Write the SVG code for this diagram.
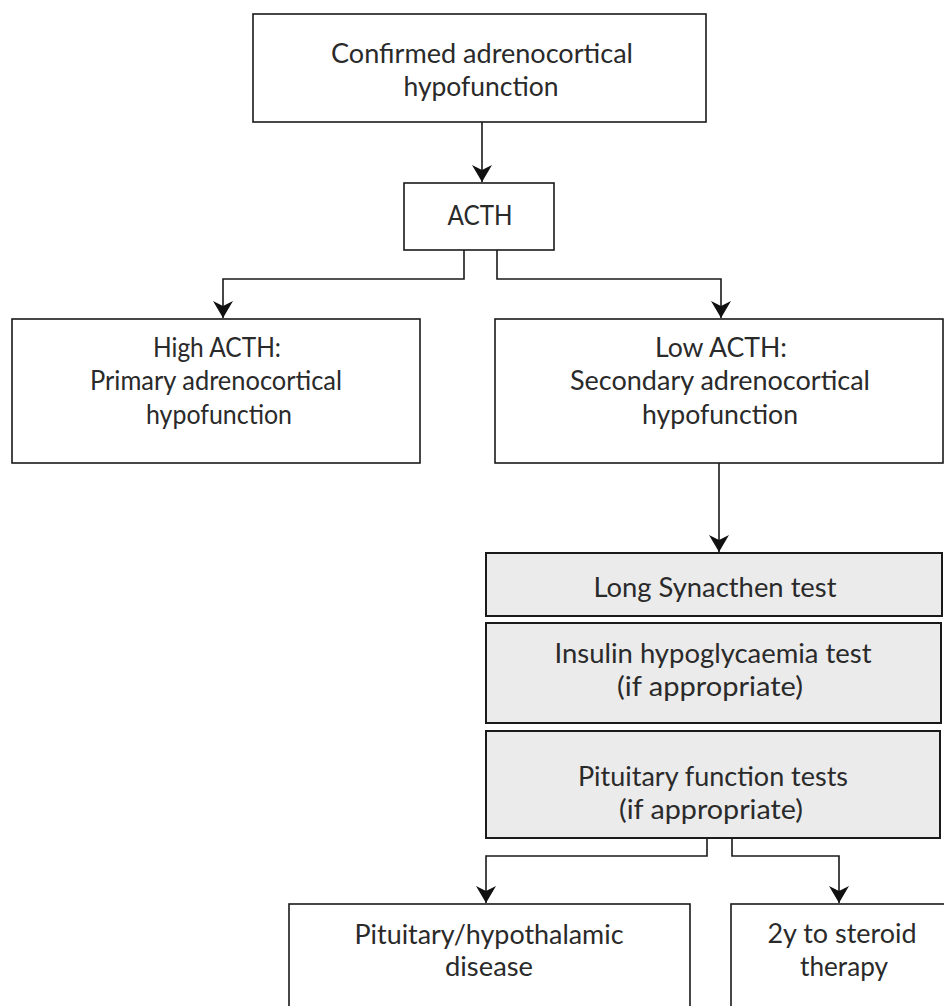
<svg xmlns="http://www.w3.org/2000/svg" width="944" height="1006" viewBox="0 0 944 1006">
<defs>
<style>
.box{fill:#ffffff;stroke:#1a1a1a;stroke-width:1.6}
.gbox{fill:#ebebeb;stroke:#1a1a1a;stroke-width:2}
.t{font-family:Lato,"Open Sans","DejaVu Sans",sans-serif;font-size:27px;fill:#2a2a2a;text-anchor:middle}
.c{fill:none;stroke:#1a1a1a;stroke-width:1.6}
</style>
<marker id="ah" markerUnits="userSpaceOnUse" markerWidth="18" markerHeight="22" refX="17" refY="11" orient="auto" viewBox="0 0 18 22">
<path d="M0,1 L17,11 L0,21 L5,11 Z" fill="#111"/>
</marker>
</defs>
<rect width="944" height="1006" fill="#ffffff"/>
<g id="connectors">
<path class="c" d="M482,122 V182" marker-end="url(#ah)"/>
<path class="c" d="M464,250 V279 H223 V318" marker-end="url(#ah)"/>
<path class="c" d="M497,250 V279 H721 V318" marker-end="url(#ah)"/>
<path class="c" d="M719,463 V552" marker-end="url(#ah)"/>
<path class="c" d="M707,838 V856 H486 V903" marker-end="url(#ah)"/>
<path class="c" d="M732,838 V856 H839 V903" marker-end="url(#ah)"/>
</g>
<g id="n1">
<rect class="box" x="253" y="14" width="453" height="108"/>
<text class="t" x="482" y="63" textLength="302" lengthAdjust="spacingAndGlyphs">Confirmed adrenocortical</text>
<text class="t" x="481" y="96" textLength="155" lengthAdjust="spacingAndGlyphs">hypofunction</text>
</g>
<g id="n2">
<rect class="box" x="404" y="183" width="150" height="67"/>
<text class="t" x="480" y="225" textLength="65" lengthAdjust="spacingAndGlyphs">ACTH</text>
</g>
<g id="n3">
<rect class="box" x="12" y="319" width="408" height="144"/>
<text class="t" x="217" y="357" textLength="128" lengthAdjust="spacingAndGlyphs">High ACTH:</text>
<text class="t" x="216" y="390" textLength="252" lengthAdjust="spacingAndGlyphs">Primary adrenocortical</text>
<text class="t" x="219" y="424" textLength="146" lengthAdjust="spacingAndGlyphs">hypofunction</text>
</g>
<g id="n4">
<rect class="box" x="495" y="319" width="448" height="144"/>
<text class="t" x="721" y="357" textLength="132" lengthAdjust="spacingAndGlyphs">Low ACTH:</text>
<text class="t" x="720" y="390" textLength="300" lengthAdjust="spacingAndGlyphs">Secondary adrenocortical</text>
<text class="t" x="720" y="424" textLength="156" lengthAdjust="spacingAndGlyphs">hypofunction</text>
</g>
<g id="n5">
<rect class="gbox" x="486" y="553" width="456" height="63"/>
<text class="t" x="715" y="597" textLength="243" lengthAdjust="spacingAndGlyphs">Long Synacthen test</text>
</g>
<g id="n6">
<rect class="gbox" x="486" y="623" width="455" height="100"/>
<text class="t" x="713" y="663" textLength="317" lengthAdjust="spacingAndGlyphs">Insulin hypoglycaemia test</text>
<text class="t" x="710" y="696" textLength="186" lengthAdjust="spacingAndGlyphs">(if appropriate)</text>
</g>
<g id="n7">
<rect class="gbox" x="486" y="731" width="454" height="107"/>
<text class="t" x="713" y="786" textLength="270" lengthAdjust="spacingAndGlyphs">Pituitary function tests</text>
<text class="t" x="711" y="819" textLength="184" lengthAdjust="spacingAndGlyphs">(if appropriate)</text>
</g>
<g id="n8">
<rect class="box" x="289" y="904" width="401" height="120"/>
<text class="t" x="489" y="944" textLength="269" lengthAdjust="spacingAndGlyphs">Pituitary/hypothalamic</text>
<text class="t" x="489" y="976" textLength="88" lengthAdjust="spacingAndGlyphs">disease</text>
</g>
<g id="n9">
<rect class="box" x="731" y="904" width="230" height="120"/>
<text class="t" x="842" y="943" textLength="149" lengthAdjust="spacingAndGlyphs">2y to steroid</text>
<text class="t" x="844" y="976" textLength="88" lengthAdjust="spacingAndGlyphs">therapy</text>
</g>
</svg>
